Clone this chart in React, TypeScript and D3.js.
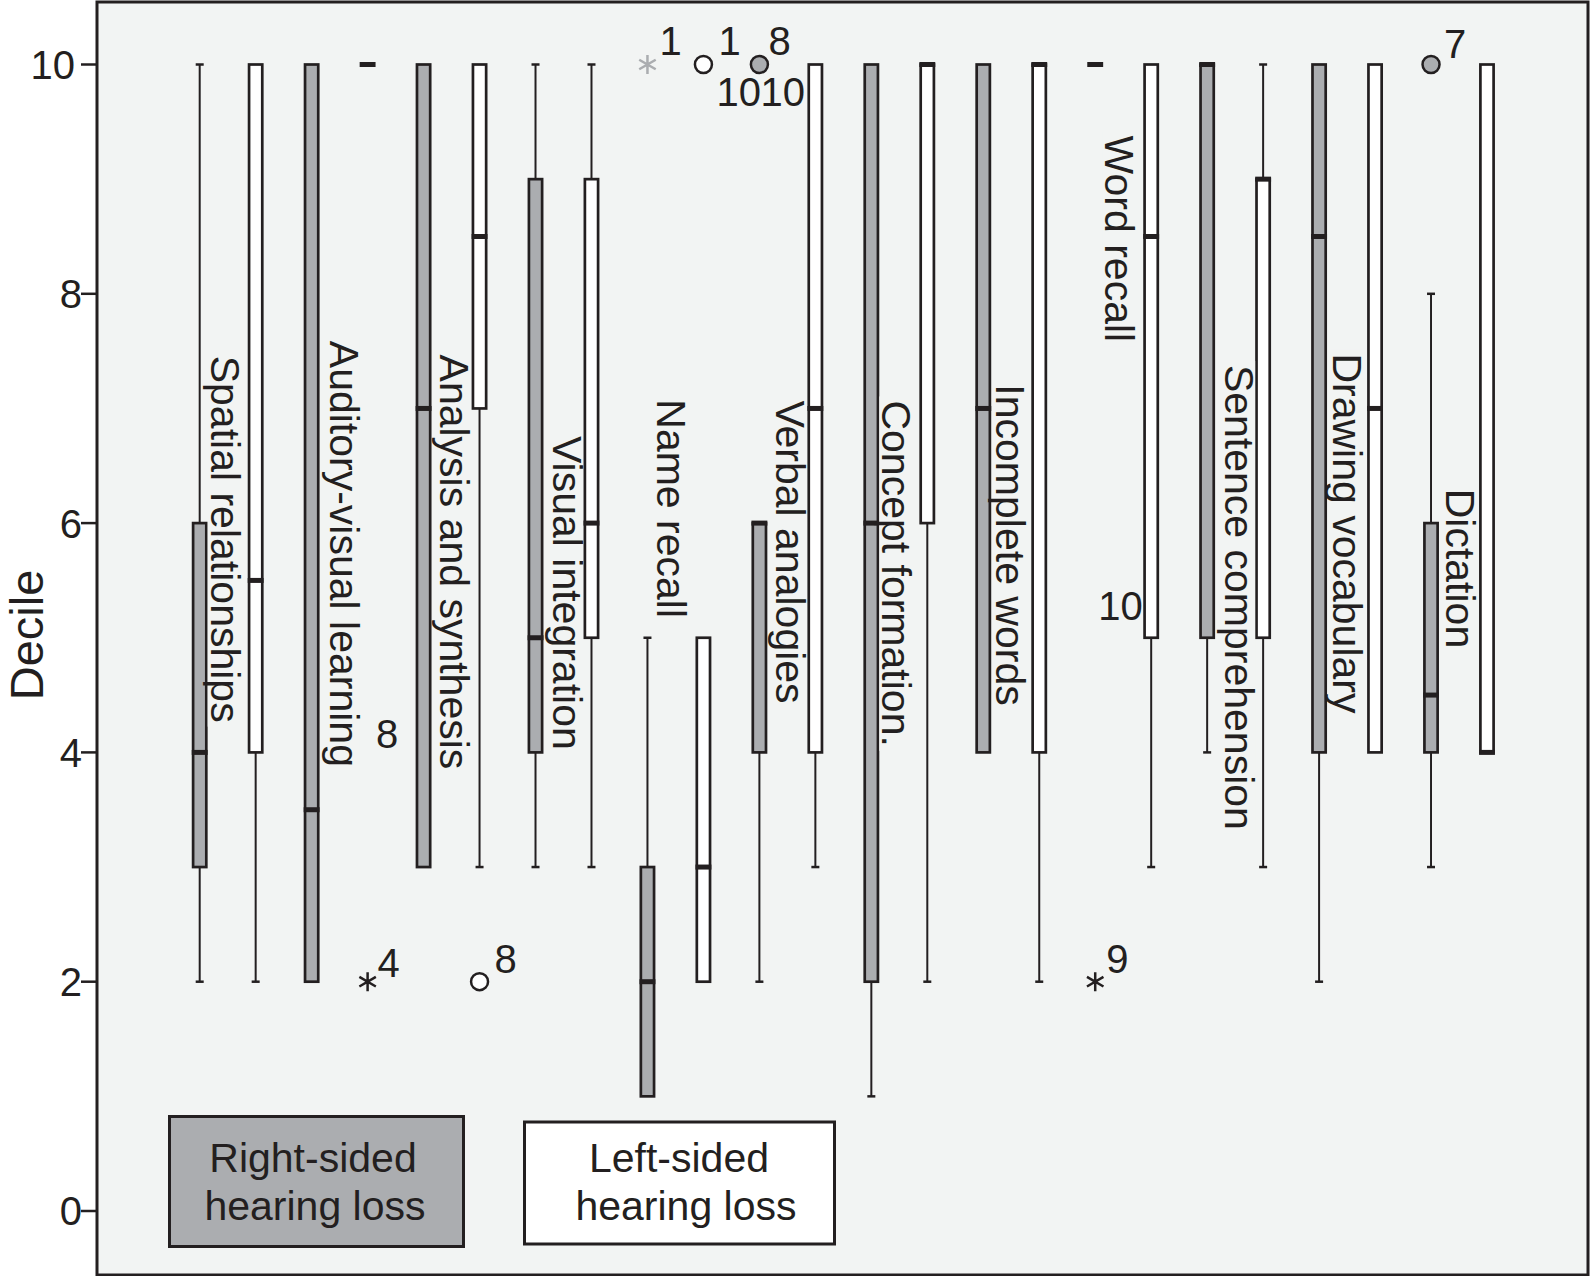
import React from "react";
import * as d3 from "d3";

// test names (x axis categories, in order)
const categories = [
  "Spatial relationships",
  "Auditory-visual learning",
  "Analysis and synthesis",
  "Visual integration",
  "Name recall",
  "Verbal analogies",
  "Concept formation.",
  "Incomplete words",
  "Word recall",
  "Sentence comprehension",
  "Drawing vocabulary",
  "Dictation",
];
const groups = ["Right-sided hearing loss", "Left-sided hearing loss"];

// right-sided hearing loss (grey boxes)
const rightMin = [2, 2, 3, 3, 1, 2, 1, 4, 10, 4, 2, 3];
const rightQ1 = [3, 2, 3, 4, 1, 4, 2, 4, 10, 5, 4, 4];
const rightMedian = [4, 3.5, 7, 5, 2, 6, 6, 7, 10, 10, 8.5, 4.5];
const rightQ3 = [6, 10, 10, 9, 3, 6, 10, 10, 10, 10, 10, 6];
const rightMax = [10, 10, 10, 10, 5, 6, 10, 10, 10, 10, 10, 8];

// left-sided hearing loss (white boxes)
const leftMin = [2, 10, 3, 3, 2, 3, 2, 2, 3, 3, 4, 4];
const leftQ1 = [4, 10, 7, 5, 2, 4, 6, 4, 5, 5, 4, 4];
const leftMedian = [5.5, 10, 8.5, 6, 3, 7, 10, 10, 8.5, 9, 7, 4];
const leftQ3 = [10, 10, 10, 9, 5, 10, 10, 10, 10, 9, 10, 10];
const leftMax = [10, 10, 10, 10, 5, 10, 10, 10, 10, 10, 10, 10];

const yTicks = [0, 2, 4, 6, 8, 10];

// outliers / extremes: category index, group (0 right, 1 left), value, case labels
const outlierCat = [1, 1, 2, 4, 4, 5, 8, 8, 11];
const outlierGroup = [1, 1, 1, 0, 1, 0, 0, 0, 0];
const outlierValue = [2, 4, 2, 10, 10, 10, 2, 5, 10];
const outlierShape = ["star", "none", "circle", "star", "circle", "dot", "star", "none", "dot"];
const outlierCases = [["4"], ["8"], ["8"], ["1"], ["1", "10"], ["8", "10"], ["9"], ["10"], ["7"]];

// ---- layout ----
const W = 1591;
const H = 1276;
const frame = { x0: 97, y0: 2, x1: 1588, y1: 1275 };
const dark = "#231f20";
const grey = "#abadb0";
const plotBg = "#f2f4f3";
const font = '"Liberation Sans", Arial, Helvetica, sans-serif';
const labelSize = 41;

// category label: start (in decile units) and baseline offset from the grey box
const labelTop = [7.46, 7.59, 7.47, 6.76, 7.08, 7.07, 7.07, 7.21, 9.38, 7.38, 7.48, 6.3];
const labelDx = [11, 18, 16, 17, 9.5, 16.5, 11, 13, 10, 18, 14, 15];

// case label offsets (px) relative to marker
const caseOffsets = [
  [[10, -5]],
  [[8.5, -4.5]],
  [[15, -9]],
  [[12, -10]],
  [[15, -10], [13, 41]],
  [[9, -10], [1, 41]],
  [[11, -9]],
  [[3, -18]],
  [[13, -7]],
];

const measure = (() => {
  const ctx = document.createElement("canvas").getContext("2d");
  return (t: string, size: number) => {
    if (!ctx) return t.length * size * 0.45;
    ctx.font = `${size}px "Liberation Sans", Arial, sans-serif`;
    return ctx.measureText(t).width;
  };
})();

export default function App() {
  const keys = categories.flatMap((c) => [c + "|R", c + "|L"]);
  const x = d3.scalePoint<string>().domain(keys).range([199.7, 1487]);
  const y = d3.scaleLinear().domain([0, 10]).range([1211, 64.5]);

  const boxW = 13.2;
  const boxStroke = 2.7;
  const capW = 8;

  const boxes = categories.flatMap((c, i) =>
    [0, 1].map((g) => ({
      key: c + (g === 0 ? "|R" : "|L"),
      g,
      min: g === 0 ? rightMin[i] : leftMin[i],
      q1: g === 0 ? rightQ1[i] : leftQ1[i],
      med: g === 0 ? rightMedian[i] : leftMedian[i],
      q3: g === 0 ? rightQ3[i] : leftQ3[i],
      max: g === 0 ? rightMax[i] : leftMax[i],
    }))
  );

  const star = d3.symbol().type(d3.symbolAsterisk).size(256)();

  return (
    <svg
      width={W}
      height={H}
      style={{ position: "absolute", left: 0, top: 0, background: "#fff" }}
      fontFamily={font}
    >
      <rect
        x={frame.x0}
        y={frame.y0}
        width={frame.x1 - frame.x0}
        height={frame.y1 - frame.y0}
        fill={plotBg}
        stroke={dark}
        strokeWidth={3}
      />

      {/* y axis */}
      {yTicks.map((t) => (
        <g key={t} transform={`translate(0,${y(t)})`}>
          <line x1={81} x2={frame.x0} stroke={dark} strokeWidth={2.5} />
          <text
            x={t === 10 ? 75 : 82}
            dy="0.36em"
            textAnchor="end"
            fontSize={40}
            fill={dark}
          >
            {t}
          </text>
        </g>
      ))}
      <text
        transform={`translate(43,635) rotate(-90)`}
        textAnchor="middle"
        fontSize={47}
        fill={dark}
      >
        Decile
      </text>

      {/* boxes */}
      {boxes.map((b) => {
        const cx = x(b.key) as number;
        const fill = b.g === 0 ? grey : "#ffffff";
        return (
          <g key={b.key}>
            {b.max > b.q3 && (
              <>
                <line x1={cx} x2={cx} y1={y(b.q3)} y2={y(b.max)} stroke={dark} strokeWidth={2} />
                <line x1={cx - capW / 2} x2={cx + capW / 2} y1={y(b.max)} y2={y(b.max)} stroke={dark} strokeWidth={2.5} />
              </>
            )}
            {b.min < b.q1 && (
              <>
                <line x1={cx} x2={cx} y1={y(b.q1)} y2={y(b.min)} stroke={dark} strokeWidth={2} />
                <line x1={cx - capW / 2} x2={cx + capW / 2} y1={y(b.min)} y2={y(b.min)} stroke={dark} strokeWidth={2.5} />
              </>
            )}
            <rect
              x={cx - boxW / 2}
              y={y(b.q3)}
              width={boxW}
              height={y(b.q1) - y(b.q3)}
              fill={fill}
              stroke={dark}
              strokeWidth={boxStroke}
            />
            <line
              x1={cx - boxW / 2 - boxStroke / 2}
              x2={cx + boxW / 2 + boxStroke / 2}
              y1={y(b.med)}
              y2={y(b.med)}
              stroke={dark}
              strokeWidth={5}
            />
          </g>
        );
      })}

      {/* rotated category labels */}
      {categories.map((c, i) => {
        const bx = (x(c + "|R") as number) + labelDx[i];
        const by = y(labelTop[i]);
        const len = measure(c, labelSize);
        return (
          <g key={c}>
            <rect x={bx - 3} y={by - 4} width={33} height={len + 8} fill={plotBg} />
            <text
              transform={`translate(${bx},${by}) rotate(90)`}
              fontSize={labelSize}
              fill={dark}
            >
              {c}
            </text>
          </g>
        );
      })}

      {/* outliers */}
      {outlierValue.map((v, k) => {
        const cx = x(categories[outlierCat[k]] + (outlierGroup[k] === 0 ? "|R" : "|L")) as number;
        const cy = y(v);
        const shape = outlierShape[k];
        const faded = shape === "star" && outlierGroup[k] === 0 && v === 10;
        return (
          <g key={k}>
            {shape === "star" && (
              <path
                d={star as string}
                transform={`translate(${cx},${cy})`}
                fill="none"
                stroke={faded ? grey : dark}
                strokeWidth={2.5}
              />
            )}
            {shape === "circle" && (
              <circle cx={cx} cy={cy} r={8.5} fill="#fff" stroke={dark} strokeWidth={2.5} />
            )}
            {shape === "dot" && (
              <circle cx={cx} cy={cy} r={8.5} fill={grey} stroke={dark} strokeWidth={2.5} />
            )}
            {outlierCases[k].map((lab, j) => (
              <text
                key={j}
                x={cx + caseOffsets[k][j][0]}
                y={cy + caseOffsets[k][j][1]}
                fontSize={40}
                fill={dark}
              >
                {lab}
              </text>
            ))}
          </g>
        );
      })}

      {/* legend */}
      <g>
        <rect x={169.5} y={1116.5} width={294} height={130} fill={grey} stroke={dark} strokeWidth={3} />
        <text x={313} y={1172} textAnchor="middle" fontSize={41} fill={dark}>
          {groups[0].split(" ")[0]}
        </text>
        <text x={315} y={1220} textAnchor="middle" fontSize={41} fill={dark}>
          {groups[0].split(" ").slice(1).join(" ")}
        </text>
        <rect x={524.5} y={1122} width={310} height={122} fill="#fff" stroke={dark} strokeWidth={3} />
        <text x={679} y={1172} textAnchor="middle" fontSize={41} fill={dark}>
          {groups[1].split(" ")[0]}
        </text>
        <text x={686} y={1220} textAnchor="middle" fontSize={41} fill={dark}>
          {groups[1].split(" ").slice(1).join(" ")}
        </text>
      </g>
    </svg>
  );
}
